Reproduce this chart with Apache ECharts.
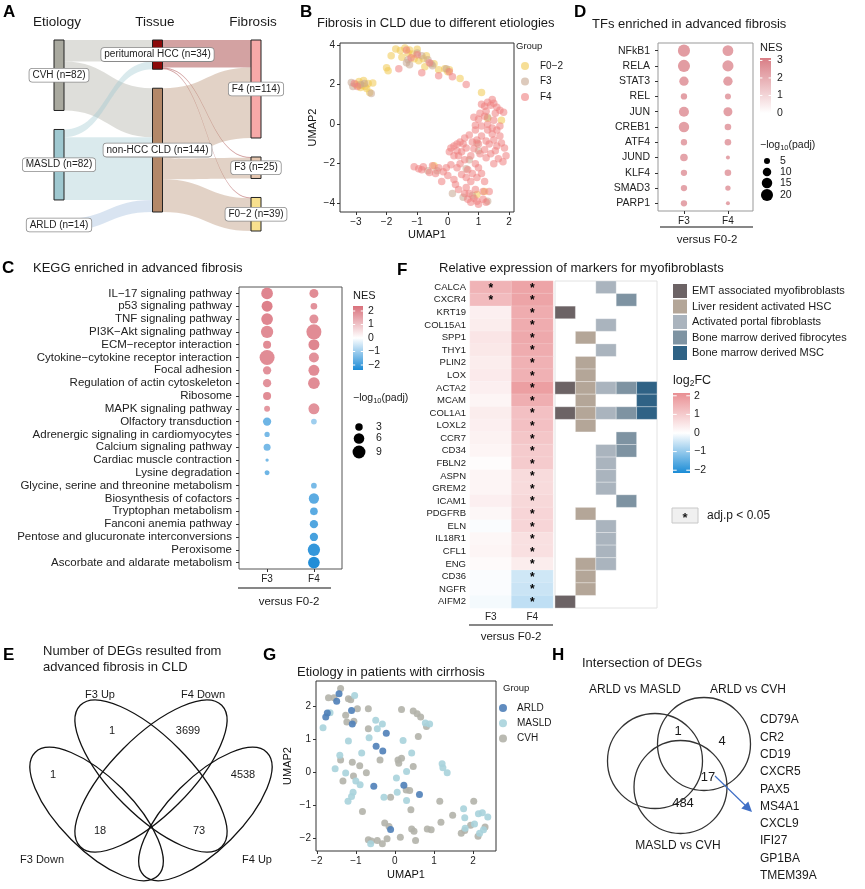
<!DOCTYPE html>
<html><head><meta charset="utf-8">
<script src="https://cdn.jsdelivr.net/npm/echarts@6/dist/echarts.min.js"></script>
<style>html,body{margin:0;padding:0;background:#fff}#c{width:865px;height:889px}</style>
</head><body><div id="c"></div>
<script>
const FONT = '"Liberation Sans", Arial, Helvetica, sans-serif';

// ===== A: Sankey =====
const sankeyNodes = ['CVH','MASLD','ARLD','peritumoral HCC','non-HCC CLD','F4','F3','F0−2'];
const sankeyCounts = [82,82,14,34,144,114,25,39];
const sankeyColors = ['#a9a99f','#9fc8d0','#9ab7d9','#8b0a0a','#b38869','#f7a9a8','#e6c7b0','#f8e08e'];
const sankeyHeaders = ['Etiology','Tissue','Fibrosis'];
const sankeyLinks = [
  ['CVH','peritumoral HCC',25],['CVH','non-HCC CLD',57],
  ['MASLD','peritumoral HCC',9],['MASLD','non-HCC CLD',73],
  ['ARLD','non-HCC CLD',14],
  ['peritumoral HCC','F4',32],['peritumoral HCC','F3',1],['peritumoral HCC','F0−2',1],
  ['non-HCC CLD','F4',82],['non-HCC CLD','F3',24],['non-HCC CLD','F0−2',38]
];

// ===== B: UMAP fibrosis =====
const fibGroups = ['F0−2','F3','F4'];
const fibColors = ['#f0c850','#c7a690','#ee7f7f'];
const umapF02 = [[-1.7,3.8],[-1.55,3.72],[-1.4,3.85],[-1.25,3.75],[-1.85,3.45],[-1.5,3.38],[-1.15,3.55],[-1.0,3.78],[-0.8,3.3],[-0.7,3.45],[-0.75,2.9],[-0.45,3.05],[-0.1,2.8],[0.05,2.75],[0.4,2.3],[1.1,1.6],[1.75,0.2],[1.3,0.3],[-2.0,2.85],[-1.95,2.7],[-2.9,2.15],[-2.8,1.95],[-2.75,2.2],[-2.6,2.05],[-2.45,2.08],[-2.55,1.6],[-2.85,1.85],[-3.0,2.0],[-2.7,1.9],[-0.45,-2.1],[0.95,-3.55],[-1.3,3.6],[-0.95,3.2],[-2.9,1.95],[-2.65,1.8],[-0.3,2.75],[-1.1,3.3],[0.0,2.65],[1.2,-3.4]];
const umapF3 = [[-3.15,2.1],[-3.1,1.9],[-2.72,2.05],[-2.5,1.55],[-1.3,3.25],[-1.25,3.0],[-0.85,3.45],[-0.65,3.25],[-0.55,3.05],[-0.35,-2.35],[-0.05,2.8],[0.6,-2.25],[0.7,-1.8],[1.0,-1.35],[0.5,-3.7],[1.3,-3.9],[-1.35,3.1],[-0.5,2.95],[-2.85,2.0],[1.3,0.35],[0.95,-0.95],[-0.65,-2.35],[0.15,-3.5],[-1.0,3.6],[0.8,-3.6]];
const umapF4 = [[-1.35,3.75],[-1.2,3.35],[-0.85,2.6],[-0.3,2.45],[0.05,2.65],[0.15,2.4],[0.6,2.0],[-1.0,3.5],[-3.05,2.05],[-2.95,1.9],[-1.6,2.8],[-0.6,3.1],
[1.1,1.0],[1.2,0.9],[1.3,1.1],[1.45,1.25],[1.4,0.95],[1.5,1.05],[1.6,0.85],[1.25,0.65],[1.05,0.55],[0.85,0.35],[1.0,0.25],[1.3,0.0],[1.5,0.2],[1.7,0.7],[1.82,0.6],[1.1,-0.1],[0.9,-0.3],[1.3,-0.3],[1.45,-0.5],[1.6,-0.3],[1.7,-0.6],[1.75,-0.95],[1.5,-0.8],[1.35,-1.0],[1.6,-1.1],[1.9,-1.6],[1.8,-1.9],[1.2,-1.3],[1.05,-1.5],[1.25,-1.7],[0.95,-0.8],[0.7,-0.55],[0.8,-0.9],[0.5,-1.0],[0.4,-0.9],[0.3,-1.0],[0.2,-1.1],[0.1,-1.2],[0.3,-1.35],[0.45,-1.4],[0.6,-1.2],[0.75,-1.6],[0.55,-1.8],[0.9,-2.0],[1.0,-2.2],[0.4,-2.0],[0.3,-2.2],[0.1,-2.05],[0.0,-2.6],[-0.2,-2.9],[0.2,-2.8],[0.25,-3.05],[0.6,-2.7],[0.8,-2.5],[0.75,-2.9],[0.6,-3.2],[0.55,-3.5],[0.65,-3.8],[0.75,-3.95],[0.85,-3.75],[0.95,-3.9],[1.0,-4.05],[1.15,-3.8],[1.25,-3.95],[1.35,-3.4],[1.15,-3.4],[0.9,-3.3],[0.7,-3.5],[-1.1,-2.15],[-0.95,-2.25],[-0.85,-2.3],[-0.8,-2.15],[-0.6,-2.45],[-0.5,-2.1],[-0.3,-2.2],[-0.15,-2.4],[1.5,-2.0],[1.65,-1.75],[1.4,-1.5],[1.55,0.55],[1.2,0.4],[0.9,-0.05],[1.1,-0.6],[1.25,-0.85],[0.55,-0.7],[0.35,-1.6],[0.2,-1.6],[0.05,-1.4],[0.65,-2.3],[1.1,-2.5],[1.2,-2.9],[0.45,-2.55],[0.35,-3.3],[1.45,-0.2],[1.7,-0.1],[1.55,-1.35],[1.85,-1.2],[1.0,-1.0],[0.85,-1.25],[-0.05,-2.2],[-0.4,-2.5],[0.95,-2.7]];
const umapBTicksX = [-3,-2,-1,0,1,2];
const umapBTicksY = [-4,-2,0,2,4];

// ===== C: KEGG =====
const keggPathways = ['IL−17 signaling pathway','p53 signaling pathway','TNF signaling pathway','PI3K−Akt signaling pathway','ECM−receptor interaction','Cytokine−cytokine receptor interaction','Focal adhesion','Regulation of actin cytoskeleton','Ribosome','MAPK signaling pathway','Olfactory transduction','Adrenergic signaling in cardiomyocytes','Calcium signaling pathway','Cardiac muscle contraction','Lysine degradation','Glycine, serine and threonine metabolism','Biosynthesis of cofactors','Tryptophan metabolism','Fanconi anemia pathway','Pentose and glucuronate interconversions','Peroxisome','Ascorbate and aldarate metabolism'];
const compGroups = ['F3','F4'];
const keggNES_F3 = [2.0,2.1,2.0,1.9,1.9,1.9,1.8,1.8,1.9,1.7,-1.5,-1.4,-1.4,-1.4,-1.5,null,null,null,null,null,null,null];
const keggLogP_F3 = [7.4,6.5,7.4,8.2,3.5,12.2,3.7,3.7,3.5,1.9,3.7,1.5,2.65,0.6,1.35,null,null,null,null,null,null,null];
const keggNES_F4 = [1.9,1.8,1.8,1.9,2.0,1.8,1.9,1.9,null,1.8,-1.0,null,null,null,null,-1.4,-1.7,-1.7,-1.8,-1.9,-2.1,-2.3];
const keggLogP_F4 = [4.4,2.4,4.4,12.2,6.5,5.4,6.5,7.4,null,6.5,1.75,null,null,null,null,1.75,5.7,3.2,3.7,3.7,8.2,7.4];
const keggSizeLegend = [3,6,9];

// ===== D: TFs =====
const tfNames = ['NFkB1','RELA','STAT3','REL','JUN','CREB1','ATF4','JUND','KLF4','SMAD3','PARP1'];
const tfNES_F3 = [2.4,2.4,2.3,2.3,2.3,2.3,2.2,2.2,2.2,2.2,2.2];
const tfLogP_F3 = [20,20,12,5.5,14,15,5.5,8,5.5,5.5,5.5];
const tfNES_F4 = [2.3,2.3,2.3,2.2,2.3,2.2,2.2,2.2,2.2,2.2,2.2];
const tfLogP_F4 = [16,17,12,5,11,6,6,2.2,6,4,2.2];
const tfSizeLegend = [5,10,15,20];

// ===== F: markers heatmap =====
const markerGenes = ['CALCA','CXCR4','KRT19','COL15A1','SPP1','THY1','PLIN2','LOX','ACTA2','MCAM','COL1A1','LOXL2','CCR7','CD34','FBLN2','ASPN','GREM2','ICAM1','PDGFRB','ELN','IL18R1','CFL1','ENG','CD36','NGFR','AIFM2'];
const log2fcF3 = [1.45,1.3,0.3,0.35,0.5,0.45,0.35,0.4,0.3,0.2,0.35,0.3,0.25,0.2,0.05,0.2,0.2,0.3,0.15,-0.05,0.15,0.2,0.1,-0.05,-0.05,-0.1];
const log2fcF4 = [1.75,1.75,1.6,1.6,1.65,1.6,1.5,1.5,1.85,1.55,1.2,1.2,1.1,1.0,1.0,0.7,0.7,0.75,0.8,0.8,0.6,0.6,0.35,-0.45,-0.5,-0.6];
const sigF3 = [1,1,0,0,0,0,0,0,0,0,0,0,0,0,0,0,0,0,0,0,0,0,0,0,0,0];
const sigF4 = [1,1,1,1,1,1,1,1,1,1,1,1,1,1,1,1,1,1,1,1,1,1,1,1,1,1];
const markerCats = ['EMT associated myofibroblasts','Liver resident activated HSC','Activated portal fibroblasts','Bone marrow derived fibrocytes','Bone marrow derived MSC'];
const markerCatColors = ['#6c6365','#b4a698','#aab4be','#7e93a2','#2f6285'];
const geneCats = [[2],[3],[0],[2],[1],[2],[1],[1],[0,1,2,3,4],[1,4],[0,1,2,3,4],[1],[3],[2,3],[2],[2],[2],[3],[1],[2],[2],[2],[1,2],[1],[1],[0]];

// ===== E: Venn 4 =====
const vennESets = ['F3 Up','F4 Down','F3 Down','F4 Up'];
const vennECounts = [1,3699,1,4538,18,73];

// ===== G: UMAP etiology =====
const etioGroups = ['ARLD','MASLD','CVH'];
const etioColors = ['#4f7fb8','#a9d3db','#b3b2aa'];
const umapARLD = [[-1.43,2.37],[-1.49,2.15],[-1.73,1.79],[-1.77,1.67],[-1.11,1.87],[-1.09,1.46],[-0.22,1.18],[-0.48,0.78],[-0.31,0.64],[-0.54,-0.43],[0.23,-0.40],[0.63,-0.68],[-0.11,-1.74]];
const umapMASLD = [[-1.03,2.32],[-1.66,1.80],[-1.84,1.34],[-0.49,1.57],[-0.32,1.46],[-0.45,1.31],[-1.19,0.94],[-0.66,1.04],[-1.41,0.51],[-0.85,0.58],[-1.53,0.10],[-1.26,-0.03],[-1.00,-0.27],[-0.89,-0.38],[-1.07,-0.61],[-1.11,-0.74],[-1.20,-0.88],[-0.28,-0.76],[0.04,-0.18],[0.06,-0.61],[0.30,0.02],[0.30,-0.86],[0.21,0.96],[0.43,0.58],[0.78,1.49],[0.89,1.46],[1.21,0.25],[1.23,0.13],[1.34,-0.02],[1.76,-1.11],[1.79,-1.38],[1.80,-1.70],[2.04,-1.57],[2.14,-1.26],[2.24,-1.23],[2.38,-1.36],[2.27,-1.75],[2.17,-1.85],[-0.62,-2.17]];
const umapCVH = [[-1.39,2.53],[-1.70,2.25],[-1.56,2.25],[-1.19,2.22],[-1.13,2.19],[-0.96,1.92],[-1.26,1.72],[-1.23,1.52],[-0.68,1.92],[-1.05,1.54],[-0.68,1.31],[0.17,1.90],[0.47,1.85],[0.57,1.77],[0.66,1.67],[0.81,1.38],[0.60,1.08],[-0.38,0.37],[0.08,0.37],[0.17,0.42],[0.10,0.27],[0.47,0.17],[-1.39,0.37],[-1.09,0.30],[-0.90,0.19],[-0.73,-0.02],[-1.33,-0.27],[-1.06,-0.12],[0.29,-0.54],[0.38,-0.56],[0.41,-1.14],[-0.11,-0.76],[-0.83,-1.19],[1.15,-0.88],[1.48,-1.31],[1.18,-1.52],[-0.26,-1.54],[-0.15,-1.65],[0.43,-1.72],[0.49,-1.79],[0.83,-1.72],[0.93,-1.75],[1.70,-1.85],[1.79,-1.77],[2.02,-0.88],[1.94,-1.61],[2.31,-1.66],[2.13,-1.94],[-0.68,-2.05],[-0.45,-2.07],[-0.32,-2.17],[-0.20,-2.02],[0.14,-1.97],[0.53,-2.07],[-0.60,-2.09]];
const umapGTicks = [-2,-1,0,1,2];

// ===== H: Venn 3 =====
const vennHSets = ['ARLD vs MASLD','ARLD vs CVH','MASLD vs CVH'];
const vennHCounts = [1,4,17,484];
const vennHGenes = ['CD79A','CR2','CD19','CXCR5','PAX5','MS4A1','CXCL9','IFI27','GP1BA','TMEM39A'];

// ================= build =================
const minus = v => String(v).replace('-', '−');
const tickStyle = {show:true, length:3, lineStyle:{color:'#333', width:1}};
function numAxis(grid, min, max, ticks, name, gap, fmt) {
  return {gridIndex:grid, type:'value', min, max, name, nameLocation:'middle', nameGap:gap,
    nameTextStyle:{fontSize:11, color:'#111', fontFamily:FONT},
    splitLine:{show:false}, axisLine:{show:false, onZero:false},
    axisTick:Object.assign({customValues:ticks}, tickStyle),
    axisLabel:{customValues:ticks, formatter: fmt || minus, fontSize:10, color:'#222', fontFamily:FONT, margin:5}};
}
function catAxis(grid, data, o) {
  return Object.assign({gridIndex:grid, type:'category', data, inverse:true,
    axisLine:{show:false, onZero:false}, splitLine:{show:false},
    axisTick:{show:true, length:3, alignWithLabel:true, interval:0, lineStyle:{color:'#333'}},
    axisLabel:{interval:0, fontSize:11.5, color:'#222', fontFamily:FONT, margin:7}}, o || {});
}

const keggData = [];
keggPathways.forEach((p,i)=>{
  if (keggNES_F3[i] != null) keggData.push([1, p, keggLogP_F3[i], keggNES_F3[i]]);
  if (keggNES_F4[i] != null) keggData.push([2, p, keggLogP_F4[i], keggNES_F4[i]]);
});
const tfData = [];
tfNames.forEach((t,i)=>{ tfData.push([1,t,tfLogP_F3[i],tfNES_F3[i]]); tfData.push([2,t,tfLogP_F4[i],tfNES_F4[i]]); });
const heatData = [];
markerGenes.forEach((g,i)=>{ heatData.push([0,i,log2fcF3[i],sigF3[i]]); heatData.push([1,i,log2fcF4[i],sigF4[i]]); });
const catData = [];
geneCats.forEach((cs,i)=>cs.forEach(c=>catData.push([c,i])));

const keggSize = v => 4.3*Math.sqrt(v);
const tfSize = v => 2.7*Math.sqrt(v);

const C_RANGE = 2.37, C_COLORS = ['#1a8ad6','#ffffff','#d9707b'];
const D_MAX = 3.14, D_COLORS = ['#ffffff','#d97d85'];
const F_RANGE = 2.15, F_COLORS = ['#1b8cd6','#ffffff','#e98f93'];

// -------- graphic --------
const G = [];
function txt(text,x,y,o){ G.push({type:'text', x, y, silent:true, z:100, style:Object.assign({text, fontFamily:FONT, fontSize:11, fill:'#1a1a1a', align:'left', verticalAlign:'middle'}, o||{})}); }
function line(x1,y1,x2,y2,st){ G.push({type:'line', silent:true, z:100, shape:{x1,y1,x2,y2}, style:Object.assign({stroke:'#111', lineWidth:1}, st||{})}); }
function circ(cx,cy,r,st){ G.push({type:'circle', silent:true, z:100, shape:{cx,cy,r}, style:st}); }
function colorbar(x,y,w,h,colors,vmin,vmax,ticks,lx){
  const stops = colors.slice().reverse().map((c,i,a)=>({offset:i/(a.length-1), color:c}));
  G.push({type:'rect', silent:true, z:99, shape:{x,y,width:w,height:h}, style:{fill:{type:'linear',x:0,y:0,x2:0,y2:1,colorStops:stops}}});
  ticks.forEach(t=>{
    const yy = y + (vmax-t)/(vmax-vmin)*h;
    line(x,yy,x+w*0.22,yy,{stroke:'#fff',lineWidth:1});
    line(x+w*0.78,yy,x+w,yy,{stroke:'#fff',lineWidth:1});
    txt(minus(t), lx, yy, {fontSize:10.5});
  });
}
const subRich = {a:{fontSize:10.5, fontFamily:FONT, fill:'#1a1a1a', lineHeight:13, verticalAlign:'middle'}, b:{fontSize:7.5, fontFamily:FONT, fill:'#1a1a1a', lineHeight:9, verticalAlign:'bottom'}};

[['A',3,12],['B',300,12],['D',574,12],['C',2,268],['F',397,270],['E',3,655],['G',263,655],['H',552,655]].forEach(l=>txt(l[0],l[1],l[2],{fontSize:17,fontWeight:'bold',fill:'#000'}));
txt('Fibrosis in CLD due to different etiologies',317,23,{fontSize:13});
txt('TFs enriched in advanced fibrosis',592,24,{fontSize:13});
txt('KEGG enriched in advanced fibrosis',33,268,{fontSize:13});
txt('Relative expression of markers for myofibroblasts',439,268,{fontSize:13});
txt('Number of DEGs resulted from',43,651,{fontSize:13});
txt('advanced fibrosis in CLD',43,667,{fontSize:13});
txt('Etiology in patients with cirrhosis',297,672,{fontSize:13});
txt('Intersection of DEGs',582,663,{fontSize:13});
[57,155,253].forEach((x,i)=>txt(sankeyHeaders[i],x,22,{fontSize:13.5,align:'center'}));

txt('Group',516,46,{fontSize:9.5});
fibGroups.forEach((gname,i)=>{ const y=66+i*15.5; circ(525,y,4,{fill:fibColors[i],opacity:0.6}); txt(gname,540,y,{fontSize:10}); });
txt('Group',503,688,{fontSize:9.5});
etioGroups.forEach((gname,i)=>{ const y=708+i*15.3; circ(503,y,4,{fill:etioColors[i],opacity:0.9}); txt(gname,517,y,{fontSize:10}); });

txt('NES',353,296,{fontSize:11});
colorbar(353,306,10,64,C_COLORS,-C_RANGE,C_RANGE,[2,1,0,-1,-2],368);
txt('{a|−log}{b|10}{a|(padj)}',353,398,{rich:subRich});
keggSizeLegend.forEach((v,i)=>{ const y=[427,438.5,452][i]; circ(359,y,keggSize(v)/2,{fill:'#000'}); txt(String(v),376,y,{fontSize:10.5}); });
line(238,588,331,588,{lineWidth:1.2});
txt('versus F0-2',289,602,{fontSize:11.5,align:'center'});

txt('NES',760,48,{fontSize:11});
colorbar(760,58,11,55,D_COLORS,0,D_MAX,[3,2,1,0],777);
txt('{a|−log}{b|10}{a|(padj)}',760,145,{rich:subRich});
tfSizeLegend.forEach((v,i)=>{ const y=[161,172,183,195][i]; circ(767,y,tfSize(v)/2,{fill:'#000'}); txt(String(v),780,y,{fontSize:10.5}); });
line(660,227,753,227,{lineWidth:1.2});
txt('versus F0-2',707,240,{fontSize:11.5,align:'center'});

markerCats.forEach((c,i)=>{ const y=291+i*15.5; G.push({type:'rect',silent:true,z:100,shape:{x:673,y:y-7,width:14,height:14},style:{fill:markerCatColors[i]}}); txt(c,692,y,{fontSize:11}); });
txt('{a|log}{b|2}{a|FC}',673,381,{rich:{a:{fontSize:12.5,fontFamily:FONT,fill:'#1a1a1a',lineHeight:15,verticalAlign:'middle'},b:{fontSize:8.5,fontFamily:FONT,fill:'#1a1a1a',lineHeight:10,verticalAlign:'bottom'}}});
colorbar(673,393,17,80,F_COLORS,-F_RANGE,F_RANGE,[2,1,0,-1,-2],694);
G.push({type:'rect',silent:true,z:100,shape:{x:672,y:508,width:26,height:15},style:{fill:'#f0f0f0',stroke:'#c8c8c8',lineWidth:1}});
txt('*',685,518,{fontSize:13,fontWeight:'bold',align:'center'});
txt('adj.p < 0.05',707,516,{fontSize:12});
line(469,625,553,625,{lineWidth:1.2});
txt('versus F0-2',511,637,{fontSize:11.5,align:'center'});
G.push({type:'rect',silent:true,z:1,shape:{x:555,y:281,width:102,height:327},style:{fill:'none',stroke:'#e2e2e2',lineWidth:1}});

// E Venn (4 ellipses)
const ellE = [
  {cx:151,cy:776,rx:100,ry:39,rot:-Math.PI/4},
  {cx:151,cy:776,rx:100,ry:39,rot:Math.PI/4},
  {cx:96.6,cy:814,rx:87,ry:36,rot:-Math.PI/4},
  {cx:205.4,cy:814,rx:87,ry:36,rot:Math.PI/4}
];
ellE.forEach(e=>G.push({type:'ellipse',silent:true,z:100,x:e.cx,y:e.cy,rotation:e.rot,shape:{cx:0,cy:0,rx:e.rx,ry:e.ry},style:{fill:'none',stroke:'#111',lineWidth:1.3}}));
const vennESetPos = [[100,695],[203,695],[42,860],[257,860]];
vennESets.forEach((s,i)=>txt(s,vennESetPos[i][0],vennESetPos[i][1],{fontSize:11,align:'center'}));
const vennECountPos = [[112,731],[188,731],[53,775],[243,775],[100,831],[199,831]];
vennECounts.forEach((n,i)=>txt(String(n),vennECountPos[i][0],vennECountPos[i][1],{fontSize:11,align:'center'}));

// H Venn (3 circles)
[[655,761,47.5],[704,744,46.5],[680.5,787,46.5]].forEach(c=>circ(c[0],c[1],c[2],{fill:'none',stroke:'#333',lineWidth:1.3}));
const vennHSetPos = [[635,690],[748,690],[678,846]];
vennHSets.forEach((s,i)=>txt(s,vennHSetPos[i][0],vennHSetPos[i][1],{fontSize:12,align:'center'}));
const vennHCountPos = [[678,731],[722,741],[708,777],[683,803]];
vennHCounts.forEach((n,i)=>txt(String(n),vennHCountPos[i][0],vennHCountPos[i][1],{fontSize:13,align:'center'}));
line(715,776,746,806,{stroke:'#3f6fc6',lineWidth:1.2});
G.push({type:'polygon',silent:true,z:100,shape:{points:[[752,812],[741.3,808.6],[748.3,801.4]]},style:{fill:'#3f6fc6'}});
vennHGenes.forEach((gn,i)=>txt(gn,760,720+i*17.3,{fontSize:12}));

const option = {
  animation:false,
  backgroundColor:'#fff',
  textStyle:{fontFamily:FONT},
  grid:[
    {left:340, top:43, width:174, height:169, show:true, borderColor:'#333', borderWidth:1},
    {left:658, top:43, width:95, height:168, show:true, borderColor:'#999', borderWidth:1},
    {left:239, top:287, width:103, height:282, show:true, borderColor:'#555', borderWidth:1},
    {left:470, top:281, width:83, height:327, show:false},
    {left:555, top:281, width:102, height:327, show:false},
    {left:316, top:681, width:180, height:170, show:true, borderColor:'#333', borderWidth:1}
  ],
  xAxis:[
    numAxis(0,-3.52,2.16,umapBTicksX,'UMAP1',17.5),
    numAxis(1,0.41,2.57,[1,2],'',0,v=>compGroups[v-1]),
    numAxis(2,0.4,2.6,[1,2],'',0,v=>compGroups[v-1]),
    {gridIndex:3,type:'category',data:compGroups,axisLine:{show:false},axisTick:{show:false},splitLine:{show:false},axisLabel:{interval:0,fontSize:10,color:'#222',fontFamily:FONT,margin:4}},
    {gridIndex:4,type:'category',data:markerCats,show:false},
    numAxis(5,-2.02,2.59,umapGTicks,'UMAP1',18.5)
  ],
  yAxis:[
    numAxis(0,-4.44,4.1,umapBTicksY,'UMAP2',21.5),
    catAxis(1,tfNames,{axisLabel:{interval:0,fontSize:10.5,color:'#222',fontFamily:FONT,margin:8}}),
    catAxis(2,keggPathways),
    {gridIndex:3,type:'category',data:markerGenes,inverse:true,axisLine:{show:false},axisTick:{show:false},splitLine:{show:false},axisLabel:{interval:0,fontSize:9.5,color:'#222',fontFamily:FONT,margin:4}},
    {gridIndex:4,type:'category',data:markerGenes,inverse:true,show:false},
    numAxis(5,-2.39,2.76,umapGTicks,'UMAP2',22.5)
  ],
  visualMap:[
    {show:false, seriesIndex:5, dimension:3, min:-C_RANGE, max:C_RANGE, inRange:{color:C_COLORS}},
    {show:false, seriesIndex:4, dimension:3, min:0, max:D_MAX, inRange:{color:D_COLORS}},
    {show:false, seriesIndex:6, dimension:2, min:-F_RANGE, max:F_RANGE, inRange:{color:F_COLORS}}
  ],
  series:[
    {type:'sankey', left:54, top:40, width:207, height:191, nodeWidth:10, nodeGap:19, layoutIterations:0, draggable:false,
     emphasis:{disabled:true},
     data: sankeyNodes.map((n,i)=>({name:n, itemStyle:{color:sankeyColors[i], borderColor:'#222', borderWidth:1}})),
     links: sankeyLinks.map(l=>({source:l[0], target:l[1], value:l[2]})),
     lineStyle:{color:'source', opacity:0.38, curveness:0.5},
     label:{position:'inside', formatter:p=>p.name+' (n='+sankeyCounts[sankeyNodes.indexOf(p.name)]+')',
       backgroundColor:'#fff', borderColor:'#8a8a8a', borderWidth:0.8, borderRadius:3, padding:[2,3,1,3],
       fontSize:10, color:'#222', fontFamily:FONT}},
    {type:'scatter', xAxisIndex:0, yAxisIndex:0, data:umapF02, symbolSize:7.5, itemStyle:{color:fibColors[0], opacity:0.55}},
    {type:'scatter', xAxisIndex:0, yAxisIndex:0, data:umapF3, symbolSize:7.5, itemStyle:{color:fibColors[1], opacity:0.55}},
    {type:'scatter', xAxisIndex:0, yAxisIndex:0, data:umapF4, symbolSize:7.5, itemStyle:{color:fibColors[2], opacity:0.55}},
    {type:'scatter', xAxisIndex:1, yAxisIndex:1, data:tfData, symbolSize:d=>tfSize(d[2]), itemStyle:{opacity:1}},
    {type:'scatter', xAxisIndex:2, yAxisIndex:2, data:keggData, symbolSize:d=>keggSize(d[2]), itemStyle:{opacity:1}},
    {type:'heatmap', xAxisIndex:3, yAxisIndex:3, data:heatData,
     itemStyle:{borderColor:'rgba(255,255,255,0.35)', borderWidth:0.5},
     label:{show:true, formatter:p=>p.data[3]?'*':'', fontSize:12, fontWeight:'bold', color:'#000', offset:[0,1]}},
    {type:'custom', xAxisIndex:4, yAxisIndex:4, data:catData,
     renderItem:(params,api)=>{ const c=api.coord([api.value(0),api.value(1)]); const s=api.size([1,1]);
       return {type:'rect', shape:{x:c[0]-s[0]/2, y:c[1]-s[1]/2, width:s[0], height:s[1]}, style:{fill:markerCatColors[api.value(0)], stroke:'rgba(255,255,255,0.5)', lineWidth:0.6}}; }},
    {type:'scatter', xAxisIndex:5, yAxisIndex:5, data:umapCVH, symbolSize:7, itemStyle:{color:etioColors[2], opacity:0.9}},
    {type:'scatter', xAxisIndex:5, yAxisIndex:5, data:umapMASLD, symbolSize:7, itemStyle:{color:etioColors[1], opacity:0.9}},
    {type:'scatter', xAxisIndex:5, yAxisIndex:5, data:umapARLD, symbolSize:7, itemStyle:{color:etioColors[0], opacity:0.9}}
  ],
  graphic: G
};
const chart = echarts.init(document.getElementById('c'));
chart.setOption(option);
</script></body></html>
